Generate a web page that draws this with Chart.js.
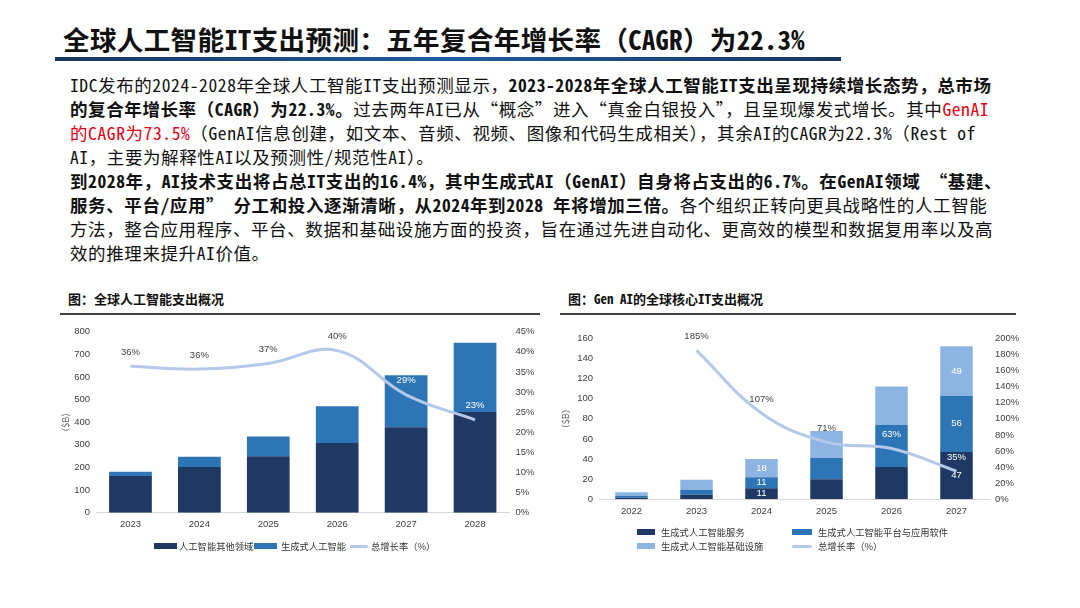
<!DOCTYPE html>
<html lang="zh">
<head>
<meta charset="utf-8">
<script src="https://cdn.jsdelivr.net/npm/chart.js@4.4.1/dist/chart.umd.min.js"></script>
<style>
  body { margin: 0; width: 1080px; height: 608px; background: #fff; position: relative; overflow: hidden;
         font-family: "Noto Sans Mono CJK SC", "Noto Sans CJK SC", sans-serif; color: #111; }
  .title { position: absolute; left: 63px; top: 21px; font-size: 26.5px; font-weight: bold; line-height: 36px; letter-spacing: 0.4px; }
  .title-rule { position: absolute; left: 55px; top: 57px; width: 786px; height: 4px;
                background: linear-gradient(90deg, #17365d, #1f5c9e 50%, #17365d); }
  .para { position: absolute; left: 70px; top: 73px; width: 916px; font-size: 17.5px; line-height: 24px; letter-spacing: 0.6px; }
  .para div { white-space: nowrap; }
  .para .full { text-align: justify; text-align-last: justify; }
  .para b { font-weight: bold; }
  .para .red { color: #e60012; }
  .cap { position: absolute; top: 290px; font-size: 13px; font-weight: bold; line-height: 18px; }
  .cap-rule { position: absolute; top: 313px; height: 1.5px; background: #404040; }
  canvas { position: absolute; }
  .lg { position: absolute; font-family: "Noto Sans CJK SC", sans-serif; font-size: 9.3px; color: #333; line-height: 12px; white-space: nowrap; }
  .sw { position: absolute; }
</style>
</head>
<body>

<div class="title">全球人工智能IT支出预测：五年复合年增长率（CAGR）为22.3%</div>
<div class="title-rule"></div>

<div class="para">
  <div class="full">IDC发布的2024-2028年全球人工智能IT支出预测显示，<b>2023-2028年全球人工智能IT支出呈现持续增长态势，总市场</b></div>
  <div class="full"><b>的复合年增长率（CAGR）为22.3%。</b>过去两年AI已从“概念”进入“真金白银投入”，且呈现爆发式增长。其中<span class="red">GenAI</span></div>
  <div><span class="red">的CAGR为73.5%</span>（GenAI信息创建，如文本、音频、视频、图像和代码生成相关），其余AI的CAGR为22.3%（Rest of</div>
  <div>AI，主要为解释性AI以及预测性/规范性AI）。</div>
  <div class="full"><b>到2028年，AI技术支出将占总IT支出的16.4%，其中生成式AI（GenAI）自身将占支出的6.7%。在GenAI领域 “基建、</b></div>
  <div class="full"><b>服务、平台/应用” 分工和投入逐渐清晰，从2024年到2028 年将增加三倍。</b>各个组织正转向更具战略性的人工智能</div>
  <div class="full">方法，整合应用程序、平台、数据和基础设施方面的投资，旨在通过先进自动化、更高效的模型和数据复用率以及高</div>
  <div>效的推理来提升AI价值。</div>
</div>

<div class="cap" style="left:68px">图：全球人工智能支出概况</div>
<div class="cap-rule" style="left:60px;width:480px"></div>
<div class="cap" style="left:568px">图：Gen AI的全球核心IT支出概况</div>
<div class="cap-rule" style="left:560px;width:456px"></div>

<canvas id="chartA" width="480" height="212" style="left:60px;top:318px"></canvas>
<canvas id="chartB" width="480" height="200" style="left:555px;top:318px"></canvas>

<div id="legendA"></div>
<div id="legendB"></div>

<script>
// ---- left chart: global AI spending ----
const yearsA = ['2023', '2024', '2025', '2026', '2027', '2028'];
const otherAI = [162, 202, 249, 308, 378, 445];
const genAI = [19, 45, 88, 163, 230, 306];
const growthA = [36.4, 35.7, 37.1, 40.3, 29.3, 23.1];
const seriesA = ['人工智能其他领域', '生成式人工智能', '总增长率（%）'];

// ---- right chart: GenAI core IT spending ----
const yearsB = ['2022', '2023', '2024', '2025', '2026', '2027'];
const genService = [1.5, 4.5, 11, 20, 32, 47];
const genPlatform = [2, 5, 11, 21, 42, 56];
const genInfra = [3.5, 10, 18, 27, 38, 49];
const growthB = [null, 185, 107, 71, 63, 35];
const seriesB = ['生成式人工智能服务', '生成式人工智能平台与应用软件', '生成式人工智能基础设施', '总增长率（%）'];
const labelledYearsB = ['2024', '2027'];

const NAVY = '#203864';
const BLUE = '#2e75b6';
const LIGHT = '#8db4e2';
const LINE = '#b4c9e9';
const TICK = '#404040';
const tickFont = { family: 'Liberation Sans', size: 9.5 };

// draws value labels using element positions from the chart
function labelPlugin(spec) {
  return {
    id: 'valueLabels',
    afterDatasetsDraw(chart) {
      const ctx = chart.ctx;
      ctx.save();
      ctx.font = '9.5px "Liberation Sans"';
      ctx.textAlign = 'center';
      ctx.textBaseline = 'middle';
      chart.data.datasets.forEach((ds, i) => {
        const s = spec[i];
        if (!s) return;
        chart.getDatasetMeta(i).data.forEach((el, j) => {
          const v = ds.data[j];
          if (v == null || !s.show(j)) return;
          ctx.fillStyle = s.color(j);
          if (s.kind === 'line') {
            ctx.fillText(Math.round(v) + '%', el.x, el.y - 14);
          } else {
            ctx.fillText(String(v), el.x, (el.y + el.base) / 2);
          }
        });
      });
      ctx.restore();
    }
  };
}

function baseScales(yMax, yStep, y1Max, y1Step, leftW, rightW, xH, titlePad) {
  return {
    x: {
      stacked: true,
      grid: { display: false, drawTicks: false },
      border: { color: '#d9d9d9' },
      ticks: { color: TICK, font: tickFont, padding: 6 },
      afterFit(s) { s.height = xH; }
    },
    y: {
      stacked: true, min: 0, max: yMax,
      grid: { display: false, drawTicks: false },
      border: { display: false },
      ticks: { stepSize: yStep, autoSkip: false, color: TICK, font: tickFont, padding: 6 },
      title: { display: true, text: '（$B）', color: '#595959', font: { family: 'Noto Sans CJK SC', size: 9 }, padding: { top: titlePad, bottom: 0 } },
      afterFit(s) { s.width = leftW; }
    },
    y1: {
      position: 'right', min: 0, max: y1Max,
      grid: { display: false, drawTicks: false },
      border: { display: false },
      ticks: { stepSize: y1Step, autoSkip: false, color: TICK, font: tickFont, padding: 6, callback: v => v + '%' },
      afterFit(s) { s.width = rightW; }
    }
  };
}

new Chart(document.getElementById('chartA'), {
  type: 'bar',
  data: {
    labels: yearsA,
    datasets: [
      { type: 'line', label: seriesA[2], data: growthA, yAxisID: 'y1', borderColor: LINE, borderWidth: 3,
        tension: 0.4, pointRadius: 0, order: 0 },
      { label: seriesA[0], data: otherAI, backgroundColor: NAVY, stack: 's', order: 1,
        categoryPercentage: 1, barPercentage: 0.62 },
      { label: seriesA[1], data: genAI, backgroundColor: BLUE, stack: 's', order: 1,
        categoryPercentage: 1, barPercentage: 0.62 }
    ]
  },
  options: {
    responsive: false, animation: false,
    layout: { padding: { top: 13.7, left: 0, right: 0, bottom: 0 } },
    plugins: { legend: { display: false }, tooltip: { enabled: false } },
    scales: baseScales(800, 100, 45, 5, 36, 30.5, 17.3, 0)
  },
  plugins: [labelPlugin({
    0: { kind: 'line', show: () => true, color: j => j >= 4 ? '#ffffff' : '#404040' }
  })]
});

new Chart(document.getElementById('chartB'), {
  type: 'bar',
  data: {
    labels: yearsB,
    datasets: [
      { type: 'line', label: seriesB[3], data: growthB, yAxisID: 'y1', borderColor: LINE, borderWidth: 3,
        tension: 0.4, pointRadius: 0, order: 0 },
      { label: seriesB[0], data: genService, backgroundColor: NAVY, stack: 's', order: 1,
        categoryPercentage: 1, barPercentage: 0.5 },
      { label: seriesB[1], data: genPlatform, backgroundColor: BLUE, stack: 's', order: 1,
        categoryPercentage: 1, barPercentage: 0.5 },
      { label: seriesB[2], data: genInfra, backgroundColor: LIGHT, stack: 's', order: 1,
        categoryPercentage: 1, barPercentage: 0.5 }
    ]
  },
  options: {
    responsive: false, animation: false,
    layout: { padding: { top: 20.3, left: 0, right: 0, bottom: 0 } },
    plugins: { legend: { display: false }, tooltip: { enabled: false } },
    scales: baseScales(160, 20, 200, 20, 44, 46, 18.7, 5)
  },
  plugins: [labelPlugin({
    0: { kind: 'line', show: () => true, color: j => j >= 4 ? '#ffffff' : '#404040' },
    1: { kind: 'bar', show: j => labelledYearsB.includes(yearsB[j]), color: () => '#ffffff' },
    2: { kind: 'bar', show: j => labelledYearsB.includes(yearsB[j]), color: () => '#ffffff' },
    3: { kind: 'bar', show: j => labelledYearsB.includes(yearsB[j]), color: () => '#ffffff' }
  })]
});

// html legends
function legendItem(parent, text, color, kind, x, y, swW, txtX) {
  const sw = document.createElement('div');
  sw.className = 'sw';
  const h = kind === 'line' ? 3 : 6;
  sw.style.cssText = `left:${x}px;top:${y - h / 2}px;width:${swW}px;height:${h}px;background:${color};` +
    (kind === 'line' ? 'border-radius:2px;' : '');
  parent.appendChild(sw);
  const t = document.createElement('div');
  t.className = 'lg';
  t.textContent = text;
  t.style.left = txtX + 'px';
  t.style.top = (y - 6.5) + 'px';
  parent.appendChild(t);
}
const lgA = document.getElementById('legendA');
legendItem(lgA, seriesA[0], NAVY, 'box', 154, 546, 23, 179);
legendItem(lgA, seriesA[1], BLUE, 'box', 254, 546, 23, 281);
legendItem(lgA, seriesA[2], LINE, 'line', 350, 546, 18, 371);
const lgB = document.getElementById('legendB');
legendItem(lgB, seriesB[0], NAVY, 'box', 637, 532, 18, 661);
legendItem(lgB, seriesB[1], BLUE, 'box', 792, 532, 20, 818);
legendItem(lgB, seriesB[2], LIGHT, 'box', 637, 546, 18, 661);
legendItem(lgB, seriesB[3], LINE, 'line', 792, 546, 20, 818);
</script>
</body>
</html>
